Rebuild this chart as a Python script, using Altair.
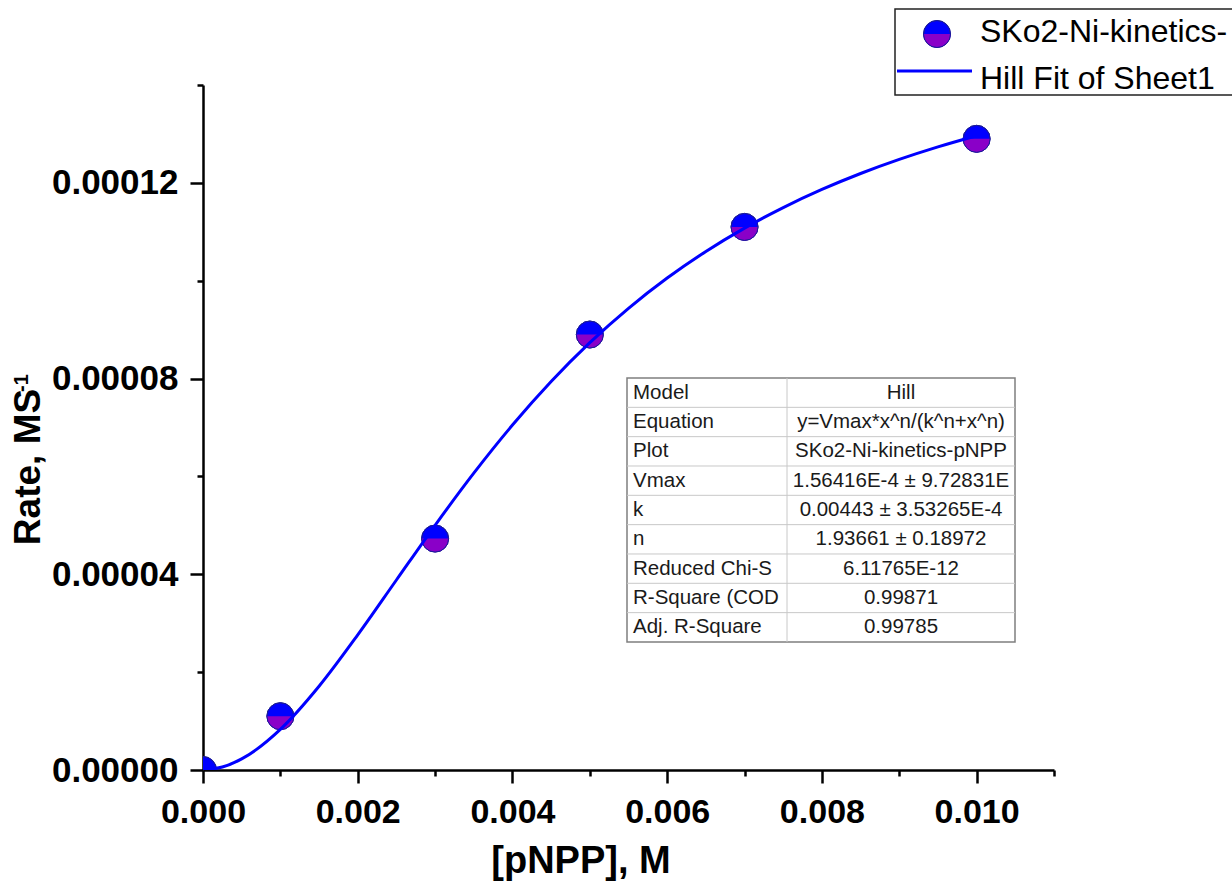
import altair as alt
import pandas as pd

# ---- data ----
x_obs = [0.0, 0.001, 0.003, 0.005, 0.007, 0.010]
rate_obs = [0.0, 1.10e-5, 4.73e-5, 8.90e-5, 1.110e-4, 1.290e-4]

x_fit = [0.0, 0.00025, 0.0005, 0.001, 0.0015, 0.002, 0.0025, 0.003, 0.0035, 0.004,
         0.0045, 0.005, 0.0055, 0.006, 0.0065, 0.007, 0.0075, 0.008, 0.0085,
         0.009, 0.0095, 0.010]
rate_fit = [0.0, 6.0e-7, 2.26e-6, 8.30e-6, 1.711e-5, 2.761e-5, 3.883e-5, 5.002e-5,
            6.067e-5, 7.050e-5, 7.940e-5, 8.734e-5, 9.436e-5, 1.0054e-4, 1.0598e-4,
            1.1075e-4, 1.1495e-4, 1.1865e-4, 1.2191e-4, 1.2479e-4, 1.2735e-4,
            1.2963e-4]

x_ticks = [0.0, 0.001, 0.002, 0.003, 0.004, 0.005, 0.006, 0.007, 0.008, 0.009, 0.010, 0.011]
y_ticks = [0.0, 0.00002, 0.00004, 0.00006, 0.00008, 0.00010, 0.00012, 0.00014]

table_labels = ["Model", "Equation", "Plot", "Vmax", "k", "n",
                "Reduced Chi-S", "R-Square (COD", "Adj. R-Square"]
table_values = ["Hill", "y=Vmax*x^n/(k^n+x^n)", "SKo2-Ni-kinetics-pNPP",
                "1.56416E-4 ± 9.72831E", "0.00443 ± 3.53265E-4", "1.93661 ± 0.18972",
                "6.11765E-12", "0.99871", "0.99785"]

# the reference legend is cut at the picture's right edge after "kinetics-"
series_name = "SKo2-Ni-kinetics-"
fit_name = "Hill Fit of Sheet1"

FONT = "Liberation Sans"
W, H = 851, 685
BLUE = "#0000ff"
PURPLE = "#8a00c8"
HALF = "M -1 0 A 1 1 0 0 0 1 0 Z"

obs = pd.DataFrame({"x": x_obs, "rate": rate_obs})
fit = pd.DataFrame({"x": x_fit, "rate": rate_fit})

xs = alt.Scale(domain=[0, 0.011], nice=False, zero=False)
ys = alt.Scale(domain=[0, 0.00014], nice=False, zero=False)

x_axis = alt.Axis(
    values=x_ticks, title=None, grid=False, labelFlush=False, labelOverlap=False,
    labelExpr="round(datum.value*1000) % 2 == 1 ? '' : format(datum.value, '.3f')",
    tickSize={"condition": {"test": "round(datum.value*1000) % 2 == 1", "value": 6}, "value": 13},
    labelFont=FONT, labelFontSize=34, labelFontWeight="bold", labelColor="black",
    labelPadding=12, domainColor="black", domainWidth=2.5, tickColor="black", tickWidth=2.5,
)
y_axis = alt.Axis(
    values=y_ticks, title=None, grid=False, labelFlush=False, labelOverlap=False,
    labelExpr="round(datum.value*100000/2) % 2 == 1 ? '' : format(datum.value, '.5f')",
    tickSize={"condition": {"test": "round(datum.value*100000/2) % 2 == 1", "value": 6}, "value": 13},
    labelFont=FONT, labelFontSize=35, labelFontWeight="bold", labelColor="black",
    labelPadding=12, domainColor="black", domainWidth=2.5, tickColor="black", tickWidth=2.5,
)

base = alt.Chart(obs).encode(
    x=alt.X("x:Q", scale=xs, axis=x_axis),
    y=alt.Y("rate:Q", scale=ys, axis=y_axis),
)
pts_full = base.mark_point(shape="circle", filled=True, size=729, color=BLUE, opacity=1,
                           clip=True, stroke="#1a1a9a", strokeWidth=1)
pts_half = base.mark_point(shape=HALF, filled=True, size=729, color=PURPLE, opacity=1,
                           clip=True, strokeWidth=0)
pts_ring = base.mark_point(shape="circle", filled=False, size=729, color="#1a1a9a",
                           opacity=1, clip=True, strokeWidth=1)

line = alt.Chart(fit).mark_line(color=BLUE, strokeWidth=3, interpolate="monotone",
                                clip=True).encode(
    x=alt.X("x:Q", scale=xs), y=alt.Y("rate:Q", scale=ys))

# ---- axis titles ----
one = pd.DataFrame({"t": [0]})
x_title = alt.Chart(one).mark_text(text="[pNPP], M", font=FONT, fontSize=38, fontWeight="bold",
                                   align="center", baseline="alphabetic", color="black").encode(
    x=alt.value(378), y=alt.value(788))
y_title = alt.Chart(one).mark_text(text="Rate, MS", font=FONT, fontSize=37, fontWeight="bold",
                                   align="center", baseline="alphabetic", angle=270,
                                   color="black").encode(
    x=alt.value(-163), y=alt.value(382))
y_sup = alt.Chart(one).mark_text(text="-1", font=FONT, fontSize=20, fontWeight="bold",
                                 align="left", baseline="alphabetic", angle=270,
                                 color="black").encode(
    x=alt.value(-175), y=alt.value(307))

# ---- results table ----
T_L, T_R, T_D, T_T = 424, 812, 584, 293
ROW = 29.33
tab = pd.DataFrame({
    "label": table_labels,
    "value": table_values,
    "yc": [T_T + ROW * (i + 0.5) for i in range(len(table_labels))],
})
sep = pd.DataFrame({"ys": [T_T + ROW * (i + 1) for i in range(len(table_labels) - 1)]})

tab_bg = alt.Chart(one).mark_rect(fill="white", stroke="#7f7f7f", strokeWidth=1.5).encode(
    x=alt.value(T_L), x2=alt.value(T_R), y=alt.value(T_T), y2=alt.value(T_T + ROW * 9))
tab_hlines = alt.Chart(sep).mark_rule(color="#c8c8c8", strokeWidth=1).encode(
    x=alt.value(T_L), x2=alt.value(T_R), y=alt.Y("ys:Q", scale=None))
tab_vline = alt.Chart(one).mark_rule(color="#c8c8c8", strokeWidth=1).encode(
    x=alt.value(T_D), y=alt.value(T_T), y2=alt.value(T_T + ROW * 9))
tab_lab = alt.Chart(tab).mark_text(font=FONT, fontSize=20.5, align="left", baseline="middle",
                                   color="#1a1a1a").encode(
    x=alt.value(T_L + 6), y=alt.Y("yc:Q", scale=None), text="label:N")
tab_val = alt.Chart(tab).mark_text(font=FONT, fontSize=20.5, align="center", baseline="middle",
                                   color="#1a1a1a").encode(
    x=alt.value((T_D + T_R) / 2), y=alt.Y("yc:Q", scale=None), text="value:N")

# ---- legend ----
leg_box = alt.Chart(one).mark_rect(fill="white", stroke="#222222", strokeWidth=1.5).encode(
    x=alt.value(692), x2=alt.value(1200), y=alt.value(-76), y2=alt.value(10))
leg_sym_full = alt.Chart(one).mark_point(shape="circle", filled=True, size=729, color=BLUE,
                                         opacity=1, stroke="#1a1a9a", strokeWidth=1).encode(
    x=alt.value(734), y=alt.value(-51))
leg_sym_half = alt.Chart(one).mark_point(shape=HALF, filled=True, size=729, color=PURPLE,
                                         opacity=1, strokeWidth=0).encode(
    x=alt.value(734), y=alt.value(-51))
leg_sym_ring = alt.Chart(one).mark_point(shape="circle", filled=False, size=729,
                                         color="#1a1a9a", opacity=1, strokeWidth=1).encode(
    x=alt.value(734), y=alt.value(-51))
leg_line = alt.Chart(one).mark_rule(color=BLUE, strokeWidth=3).encode(
    x=alt.value(694), x2=alt.value(769), y=alt.value(-14))
leg_t1 = alt.Chart(one).mark_text(text=series_name, font=FONT, fontSize=32, align="left",
                                  baseline="middle", color="black").encode(
    x=alt.value(777), y=alt.value(-53))
leg_t2 = alt.Chart(one).mark_text(text=fit_name, font=FONT, fontSize=32, align="left",
                                  baseline="middle", color="black").encode(
    x=alt.value(777), y=alt.value(-6))

chart = alt.layer(
    pts_full, pts_half, pts_ring, line,
    tab_bg, tab_hlines, tab_vline, tab_lab, tab_val,
    x_title, y_title, y_sup,
    leg_box, leg_sym_full, leg_sym_half, leg_sym_ring, leg_line, leg_t1, leg_t2,
).properties(
    width=W, height=H,
    autosize=alt.AutoSizeParams(type="none"),
    padding={"left": 203, "top": 85, "right": 178, "bottom": 112},
    background="white",
).configure_view(stroke=None)

chart.save("out.html", embed_options={"renderer": "svg", "actions": False})
